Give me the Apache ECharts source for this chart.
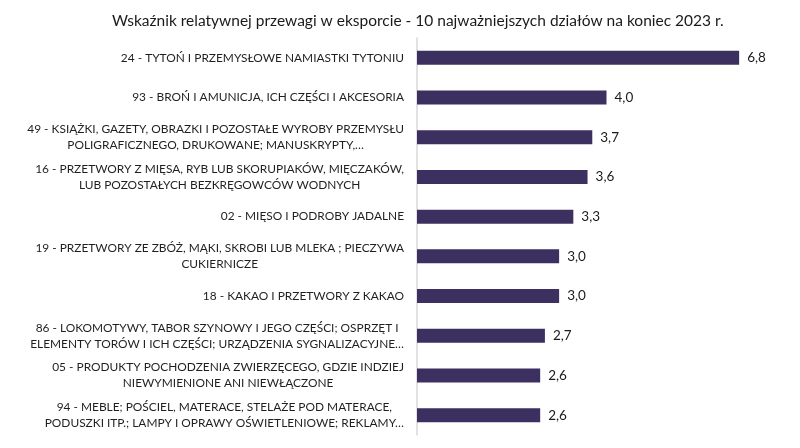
<!DOCTYPE html>
<html>
<head>
<meta charset="utf-8">
<script src="https://cdn.jsdelivr.net/npm/echarts@6/dist/echarts.min.js"></script>
<style>html,body{margin:0;padding:0;background:#fff}#c{width:800px;height:448px}</style>
</head>
<body>
<div id="c"></div>
<script>
const titleText = 'Wskaźnik relatywnej przewagi w eksporcie - 10 najważniejszych działów na koniec 2023 r.';
const categories = [
  '24 - TYTOŃ I PRZEMYSŁOWE NAMIASTKI TYTONIU',
  '93 - BROŃ I AMUNICJA, ICH CZĘŚCI I AKCESORIA',
  '49 - KSIĄŻKI, GAZETY, OBRAZKI I POZOSTAŁE WYROBY PRZEMYSŁU\nPOLIGRAFICZNEGO, DRUKOWANE; MANUSKRYPTY,…',
  '16 - PRZETWORY Z MIĘSA, RYB LUB SKORUPIAKÓW, MIĘCZAKÓW,\nLUB POZOSTAŁYCH BEZKRĘGOWCÓW WODNYCH',
  '02 - MIĘSO I PODROBY JADALNE',
  '19 - PRZETWORY ZE ZBÓŻ, MĄKI, SKROBI LUB MLEKA ; PIECZYWA\nCUKIERNICZE',
  '18 - KAKAO I PRZETWORY Z KAKAO',
  '86 - LOKOMOTYWY, TABOR SZYNOWY I JEGO CZĘŚCI; OSPRZĘT I\nELEMENTY TORÓW I ICH CZĘŚCI; URZĄDZENIA SYGNALIZACYJNE…',
  '05 - PRODUKTY POCHODZENIA ZWIERZĘCEGO, GDZIE INDZIEJ\nNIEWYMIENIONE ANI NIEWŁĄCZONE',
  '94 - MEBLE; POŚCIEL, MATERACE, STELAŻE POD MATERACE,\nPODUSZKI ITP.; LAMPY I OPRAWY OŚWIETLENIOWE; REKLAMY…'
];
const values = [6.8, 4.0, 3.7, 3.6, 3.3, 3.0, 3.0, 2.7, 2.6, 2.6];

const FONT = 'Lato';
const LBL = 11.9;
const chart = echarts.init(document.getElementById('c'), null, {renderer: 'canvas'});
chart.setOption({
  animation: false,
  backgroundColor: '#ffffff',
  title: {
    text: titleText,
    left: 107,
    top: 8,
    textStyle: {fontFamily: FONT, fontSize: 15.5, fontWeight: 'normal', color: '#1a1a1a'}
  },
  grid: {left: 417, right: 4, top: 38, bottom: 13, containLabel: false},
  xAxis: {
    type: 'value', min: 0, max: 8,
    show: false
  },
  yAxis: {
    type: 'category',
    data: categories,
    inverse: true,
    axisLine: {show: true, lineStyle: {color: '#d9d9d9', width: 1.5}},
    axisTick: {show: false},
    axisLabel: {
      margin: 13,
      align: 'right',
      fontFamily: FONT,
      fontSize: LBL,
      color: '#1f1f1f',
      lineHeight: 16,
      formatter: v => v.split('\n').map(s => '{c|' + s + '}').join('\n'),
      rich: {c: {align: 'center', fontFamily: FONT, fontSize: LBL, color: '#1f1f1f', lineHeight: 16}}
    }
  },
  series: [{
    type: 'bar',
    data: values,
    barWidth: 14,
    itemStyle: {color: '#3b3060'},
    label: {
      show: true,
      position: 'right',
      distance: 8,
      fontFamily: FONT,
      fontSize: 13.5,
      color: '#1a1a1a',
      formatter: p => p.value.toFixed(1).replace('.', ',')
    }
  }]
});
</script>
</body>
</html>
